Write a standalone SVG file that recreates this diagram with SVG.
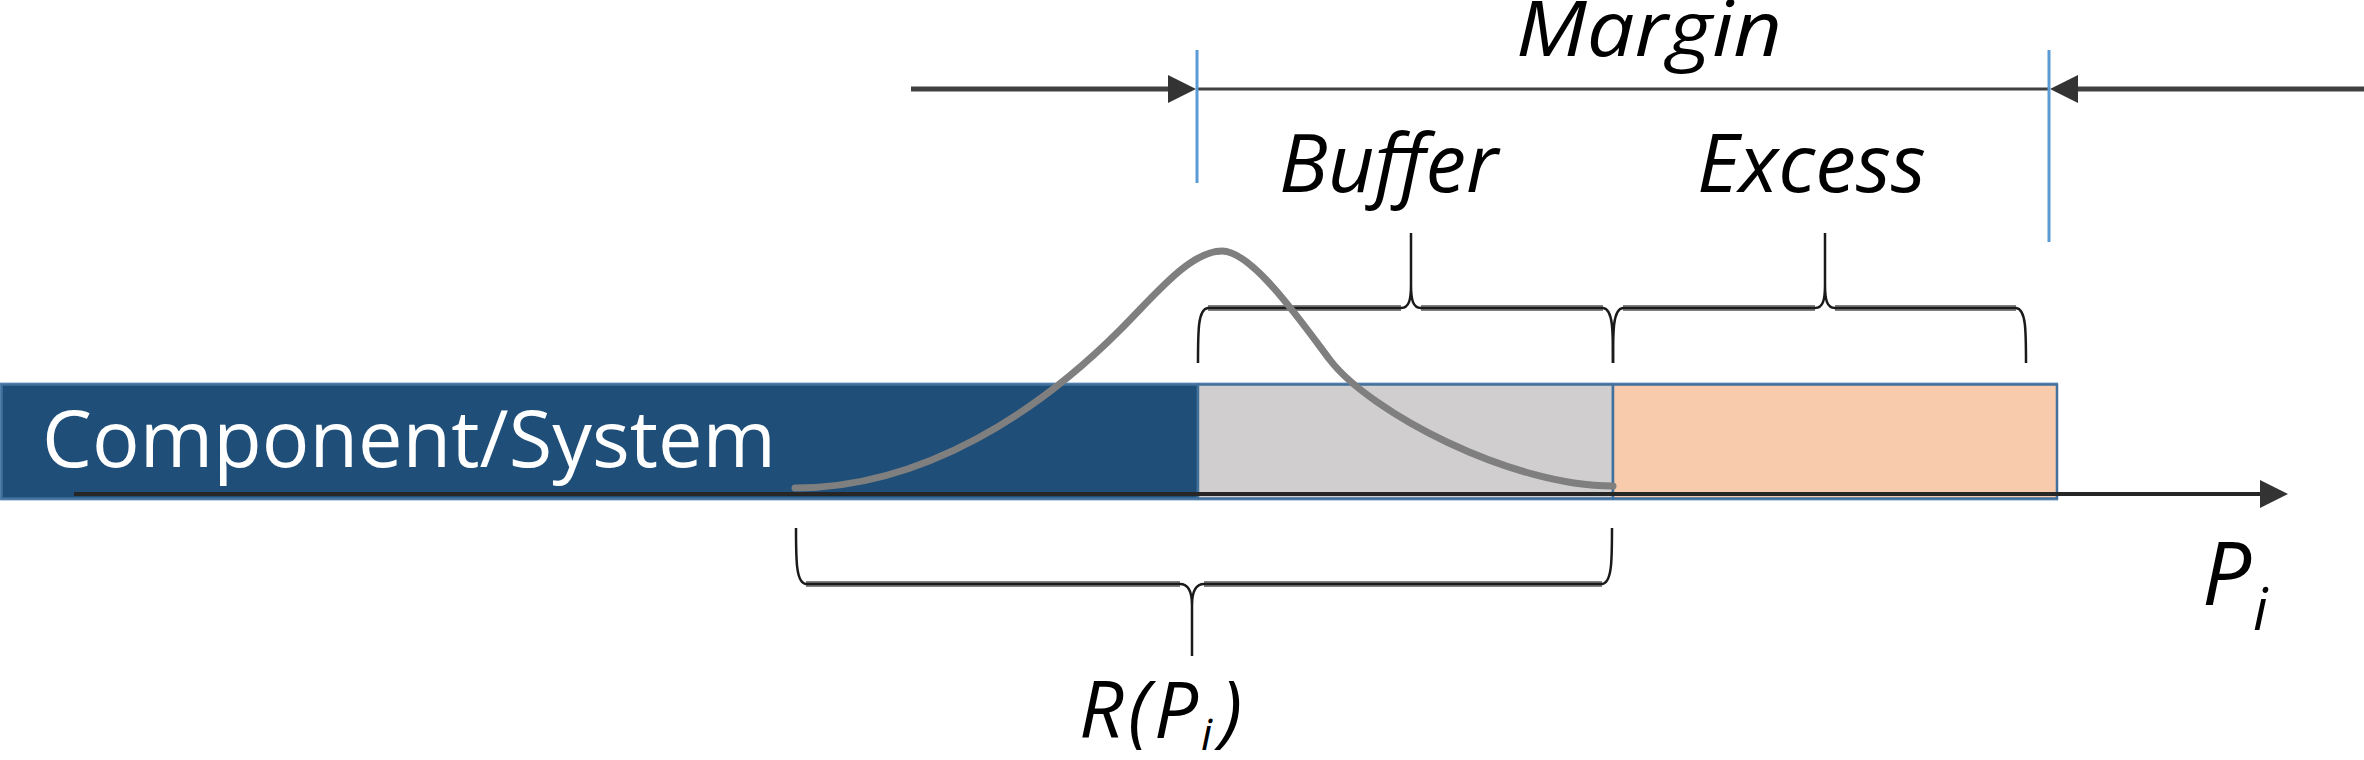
<svg xmlns="http://www.w3.org/2000/svg" width="2364" height="760" viewBox="0 0 2364 760">
<defs>
<marker id="head" markerUnits="userSpaceOnUse" markerWidth="30" markerHeight="30" refX="2" refY="14" orient="auto" viewBox="0 0 30 28">
<path d="M0,0 L28,14 L0,28 z" fill="#333333"/>
</marker>
<style>
.seg{stroke:#41719C;stroke-width:2.5}
.guide{stroke:#5B9BD5;stroke-width:3;fill:none}
.dim{stroke:#404040;fill:none}
.brace{stroke:#1a1a1a;stroke-width:2.5;fill:none}
.braceh{stroke:#808080;stroke-width:6;fill:none}
.lbl{font-family:"Open Sans","DejaVu Sans",sans-serif;font-style:italic;fill:#000000}
.curve{stroke:#7F7F7F;stroke-width:7;fill:none;stroke-linecap:round}
</style>
</defs>
<rect width="2364" height="760" fill="#ffffff"/>

<g id="bar">
<rect x="1.5" y="384" width="2055" height="115" fill="none" stroke="#7fa5d0" stroke-width="3"/>
<g id="node-system"><rect class="seg" x="1.5" y="384.5" width="1196.5" height="114" fill="#1F4E79"/>
<text x="42" y="467" font-family="'Open Sans','DejaVu Sans',sans-serif" font-size="79" fill="#ffffff" textLength="734" lengthAdjust="spacingAndGlyphs">Component/System</text></g>
<g id="node-buffer"><rect class="seg" x="1198" y="384.5" width="415" height="114" fill="#D0CECE"/></g>
<g id="node-excess"><rect class="seg" x="1613" y="384.5" width="444" height="114" fill="#F8CBAD"/></g>
</g>

<g id="connectors">
<line class="dim" x1="911" y1="89" x2="1170" y2="89" stroke-width="5" marker-end="url(#head)"/>
<line class="dim" x1="2364" y1="89" x2="2076" y2="89" stroke-width="5" marker-end="url(#head)"/>
<line class="dim" x1="1197" y1="89" x2="2049" y2="89" stroke-width="3"/>
<line class="guide" x1="1197" y1="50" x2="1197" y2="183"/>
<line class="guide" x1="2049" y1="50" x2="2049" y2="242"/>
<line x1="74" y1="494" x2="2262" y2="494" stroke="#262626" stroke-width="4" marker-end="url(#head)"/>
</g>

<g id="brace-buffer">
<path class="braceh" d="M1208 308 H1401 M1421 308 H1603"/>
<path class="brace" d="M1198 363 C1198 330 1198 309 1208 308 L1401 308 C1409 308 1411 300 1411 285 L1411 233 M1411 285 C1411 300 1413 308 1421 308 L1603 308 C1613 309 1613 330 1613 363"/>
</g>
<g id="brace-excess">
<path class="braceh" d="M1623 308 H1815 M1835 308 H2016"/>
<path class="brace" d="M1613 363 C1613 330 1613 309 1623 308 L1815 308 C1823 308 1825 300 1825 285 L1825 233 M1825 285 C1825 300 1827 308 1835 308 L2016 308 C2026 309 2026 330 2026 363"/>
</g>
<g id="brace-r">
<path class="braceh" d="M806 584 H1180 M1204 584 H1602"/>
<path class="brace" d="M796 528 C796 560 796 583 806 584 L1180 584 C1188 584 1192 592 1192 605 L1192 656 M1192 605 C1192 592 1196 584 1204 584 L1602 584 C1612 583 1612 560 1612 528"/>
</g>

<g id="curve">
<path class="curve" d="M795 488 C925 488 1040 410 1120 330 C1155 295 1190 251 1222 251 C1252 251 1300 320 1330 360 C1370 412 1510 486 1613 486"/>
</g>

<g id="labels">
<text class="lbl" x="1516" y="56" font-size="77" textLength="266" lengthAdjust="spacingAndGlyphs">Margin</text>
<text class="lbl" x="1279" y="192" font-size="80" textLength="219" lengthAdjust="spacingAndGlyphs">Buffer</text>
<text class="lbl" x="1697" y="192" font-size="80" textLength="229" lengthAdjust="spacingAndGlyphs">Excess</text>
<text class="lbl" font-size="78"><tspan x="1079" y="738">R</tspan><tspan x="1128" y="738">(</tspan><tspan x="1154" y="738">P</tspan><tspan x="1201" y="750" font-size="44">i</tspan><tspan x="1220" y="738">)</tspan></text>
<text class="lbl" font-size="87"><tspan x="2202" y="605">P</tspan><tspan x="2253" y="630" font-size="58">i</tspan></text>
</g>
</svg>
